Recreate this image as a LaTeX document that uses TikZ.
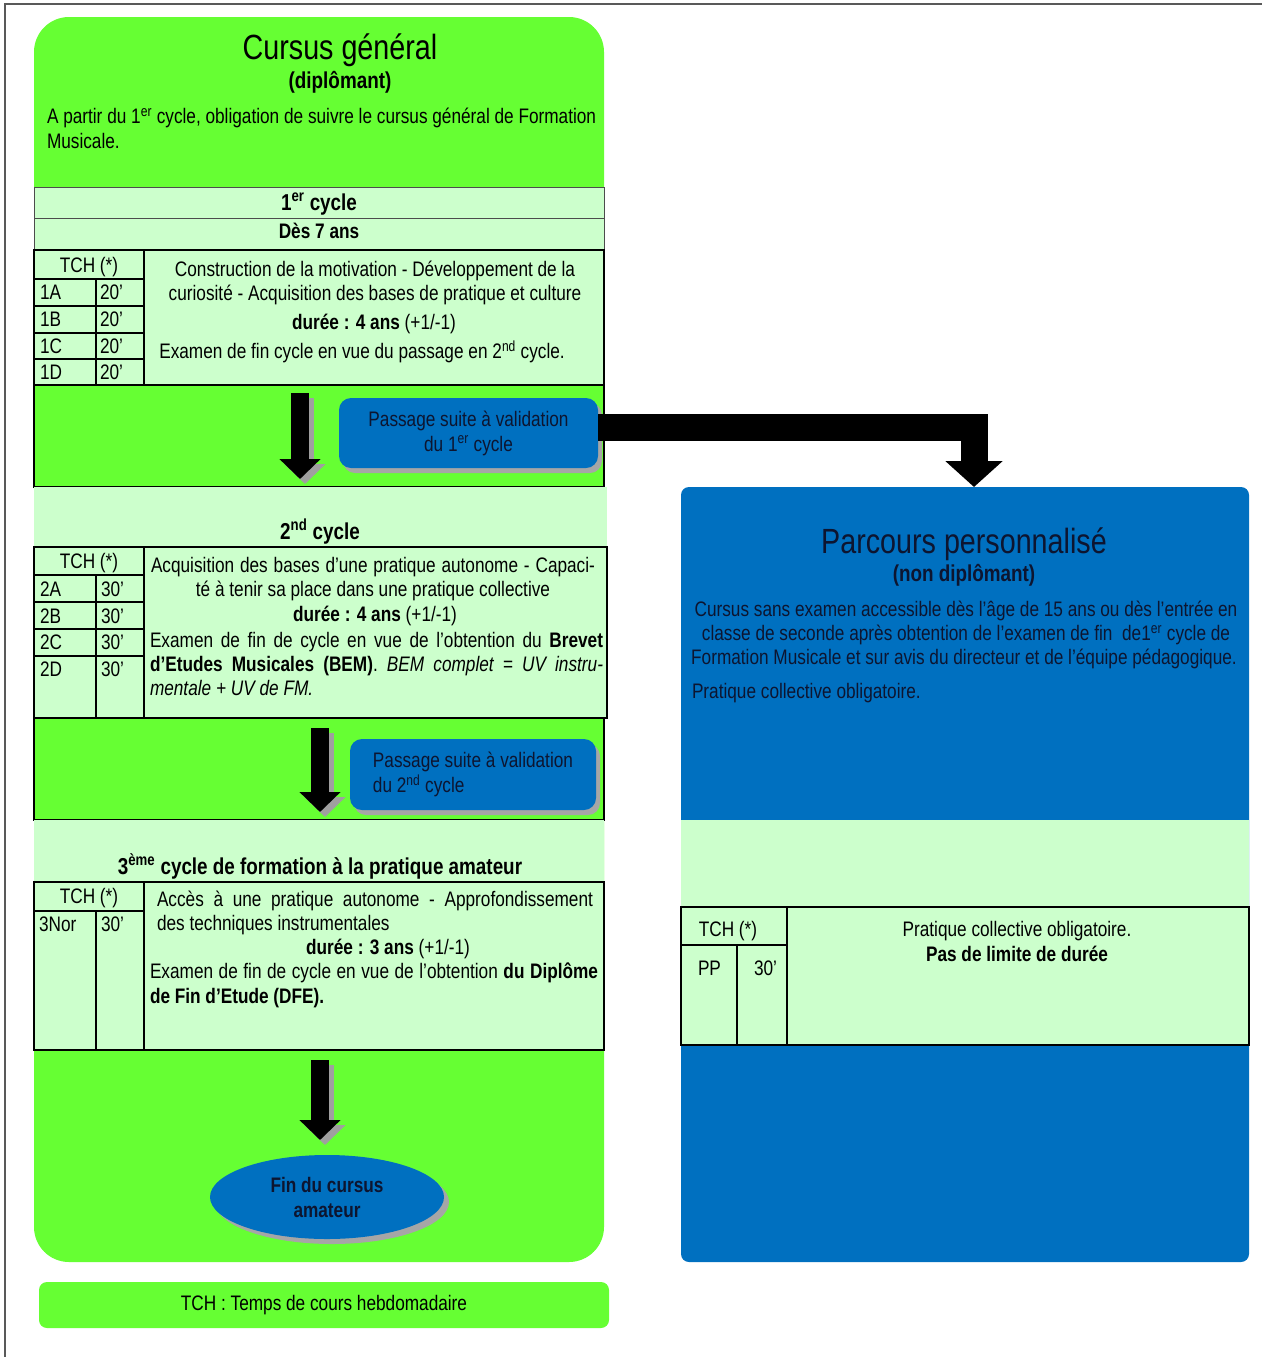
\documentclass[tikz,border=0pt]{standalone}
\usepackage{fontspec}
\setmainfont{Liberation Sans}[FakeStretch=0.82]
\usetikzlibrary{arrows.meta,shapes.geometric,shadows}
\definecolor{vif}{HTML}{66FF33}
\definecolor{pale}{HTML}{CCFFCC}
\definecolor{bleu}{HTML}{0070C0}
\definecolor{ink}{HTML}{0D1530}
\newcommand\fsBody{\fontsize{21}{25}\selectfont}
\newcommand\fsTitle{\fontsize{35}{40}\selectfont}
\newcommand\fsSub{\fontsize{23}{27}\selectfont\bfseries}
\newcommand\fsHead{\fontsize{23}{27}\selectfont\bfseries}
\newcommand\supx[1]{\textsuperscript{#1}}
\begin{document}
\begin{tikzpicture}[x=1pt,y=-1pt,
  txt/.style={inner sep=0pt, outer sep=0pt, font=\fsBody, text=black, yshift=-5pt},
  lab/.style={txt, anchor=mid},
  labw/.style={txt, anchor=mid west},
  ttl/.style={lab, font=\fsTitle, yshift=-4.5pt},
  hd/.style={lab, font=\fsHead, yshift=-1pt},
  cell/.style={draw=black, line width=1.8pt},
  thinl/.style={draw=black!70, line width=1pt},
  blk/.style={line width=18pt, -{Triangle[width=40pt,length=20pt]}, black},
  blkshad/.style={blk, color=gray!75, transform canvas={xshift=5pt,yshift=-5pt}},
  bigblk/.style={line width=27pt, -{Triangle[width=56pt,length=26pt]}, black, line join=miter},
  passbox/.style={fill=bleu, rounded corners=12pt, inner sep=0pt, text=ink, font=\fsBody,
    drop shadow={shadow xshift=4pt, shadow yshift=-5pt, fill=gray!70, opacity=1}},
  region/.style={inner sep=0pt, outer sep=0pt}
]
\useasboundingbox (0,0) rectangle (1262,1357);
\fill[white] (0,0) rectangle (1262,1357);
\draw[black!65, line width=1.5pt] (5,1357) -- (5,4) -- (1262,4);

% ---------------- left: cursus general
\node[region, fill=vif, rounded corners=35pt, minimum width=570pt, minimum height=1245pt] (gen) at (319,639.5) {};

\node[ttl] (t1) at (340,47) {Cursus général};
\node[hd, font=\fsSub] (t1b) at (340,80) {(diplômant)};
\node[labw] (intro1) at (47,116) {A partir du 1\supx{er} cycle, obligation de suivre le cursus général de Formation};
\node[labw] (intro2) at (47,141) {Musicale.};

% cycle 1
\fill[pale] (34,187) rectangle (604,385);
\draw[thinl] (34,187) -- (604,187) (34,218) -- (604,218) (34,187) -- (34,250) (604,187) -- (604,250);
\draw[cell] (34,250) rectangle (604,385);
\draw[cell] (144,250) -- (144,385) (96,279) -- (96,385)
  (34,279) -- (144,279) (34,306) -- (144,306) (34,333) -- (144,333) (34,359) -- (144,359);
\draw[cell] (34,385) rectangle (604,487);

\node[hd] (c1h) at (319,202) {1\supx{er} cycle};
\node[lab, font=\fsBody\bfseries] (c1a) at (319,231) {Dès 7 ans};
\node[lab] (tch1) at (89,265) {TCH (*)};
\foreach \n/\y in {1A/292,1B/319,1C/346,1D/372}{
  \node[labw] (r\n) at (40,\y) {\n};
  \node[labw] (d\n) at (100,\y) {20’};
}
\node[lab] (c1l1) at (375,269) {Construction de la motivation - Développement de la};
\node[lab] (c1l2) at (375,293) {curiosité - Acquisition des bases de pratique et culture};
\node[lab] (c1l3) at (374,322) {\textbf{durée : 4 ans} (+1/-1)};
\node[lab] (c1l4) at (362,351) {Examen de fin cycle en vue du passage en 2\supx{nd} cycle.};

% cycle 2
\fill[pale] (34,487) rectangle (607,718);
\draw[cell] (34,547) rectangle (607,718);
\draw[cell] (144,547) -- (144,718) (96,575) -- (96,718)
  (34,575) -- (144,575) (34,602) -- (144,602) (34,629) -- (144,629) (34,656) -- (144,656);
\draw[cell] (34,718) rectangle (604,820);

\node[hd] (c2h) at (320,531) {2\supx{nd} cycle};
\node[lab] (tch2) at (89,561) {TCH (*)};
\foreach \n/\y in {2A/589,2B/616,2C/642,2D/669}{
  \node[labw] (r\n) at (40,\y) {\n};
  \node[labw] (d\n) at (101,\y) {30’};
}
\node[labw] (c2l1) at (151,565) {\makebox[444pt][s]{Acquisition des bases d’une pratique autonome - Capaci-}};
\node[lab] (c2l2) at (373,589) {té à tenir sa place dans une pratique collective};
\node[lab] (c2l3) at (375,614) {\textbf{durée : 4 ans} (+1/-1)};
\node[labw] (c2l4) at (150,640) {\makebox[453pt][s]{Examen de fin de cycle en vue de l’obtention du \textbf{Brevet}}};
\node[labw] (c2l5) at (150,664) {\makebox[453pt][s]{\textbf{d’Etudes Musicales (BEM)}. \textit{BEM complet = UV instru-}}};
\node[labw] (c2l6) at (150,688) {\textit{mentale + UV de FM.}};

% cycle 3
\fill[pale] (34,820) rectangle (604,1050);
\draw[cell] (34,882) rectangle (604,1050);
\draw[cell] (144,882) -- (144,1050) (96,911) -- (96,1050) (34,911) -- (144,911);

\node[hd] (c3h) at (320,866) {3\supx{ème} cycle de formation à la pratique amateur};
\node[lab] (tch3) at (89,896) {TCH (*)};
\node[labw] (r3) at (39,924) {3Nor};
\node[labw] (d3) at (101,924) {30’};
\node[labw] (c3l1) at (157,899) {\makebox[436pt][s]{Accès à une pratique autonome - Approfondissement}};
\node[labw] (c3l2) at (157,923) {des techniques instrumentales};
\node[lab] (c3l3) at (388,947) {\textbf{durée : 3 ans} (+1/-1)};
\node[labw] (c3l4) at (150,971) {\makebox[448pt][s]{Examen de fin de cycle en vue de l’obtention \textbf{du Diplôme}}};
\node[labw] (c3l5) at (150,996) {\textbf{de Fin d’Etude (DFE).}};

% passage boxes
\node[passbox, minimum width=259pt, minimum height=70pt, align=center] (pass1) at (468.5,433)
  {Passage suite à validation\\du 1\supx{er} cycle};
\node[passbox, minimum width=246pt, minimum height=71pt, align=left] (pass2) at (473,774.5)
  {Passage suite à validation\\du 2\supx{nd} cycle};

% end ellipse
\node[ellipse, fill=bleu, minimum width=234pt, minimum height=84pt, inner sep=0pt, align=center,
  font=\fsBody\bfseries, text=ink,
  drop shadow={shadow xshift=5pt, shadow yshift=-5pt, fill=gray!70, opacity=1}] (fin) at (327,1197)
  {Fin du cursus\\amateur};

% down arrows
\coordinate (a1s) at (300,393); \coordinate (a1e) at (300,479);
\coordinate (a2s) at (320,728); \coordinate (a2e) at (320,812);
\coordinate (a3s) at (320,1060); \coordinate (a3e) at (320,1140);
\foreach \s/\e in {a1s/a1e,a2s/a2e,a3s/a3e}{
  \draw[blkshad] (\s) -- (\e);
  \draw[blk] (\s) -- (\e);
}

% footer
\node[region, fill=vif, rounded corners=8pt, minimum width=570pt, minimum height=46pt, font=\fsBody] (foot) at (324,1305)
  {TCH : Temps de cours hebdomadaire};

% ---------------- right: parcours personnalise
\node[region, fill=bleu, rounded corners=8pt, minimum width=568pt, minimum height=775pt] (parc) at (965,874.5) {};
\fill[pale] (681,820) rectangle (1249,1045);
\draw[cell] (681,907) rectangle (1249,1045);
\draw[cell] (787,907) -- (787,1045) (681,945) -- (787,945) (737,945) -- (737,1045);

\node[ttl, text=ink] (t2) at (964,541) {Parcours personnalisé};
\node[hd, font=\fsSub, text=ink] (t2b) at (964,573) {(non diplômant)};
\node[lab, text=ink] (p1) at (966,609) {Cursus sans examen accessible dès l’âge de 15 ans ou dès l’entrée en};
\node[lab, text=ink] (p2) at (966,633) {classe de seconde après obtention de l’examen de fin\ \ de1\supx{er} cycle de};
\node[lab, text=ink] (p3) at (964,657) {Formation Musicale et sur avis du directeur et de l’équipe pédagogique.};
\node[labw, text=ink] (p4) at (692,691) {Pratique collective obligatoire.};

\node[lab] (tch4) at (728,929) {TCH (*)};
\node[labw] (rpp) at (698,968) {PP};
\node[labw] (dpp) at (754,968) {30’};
\node[lab] (pp1) at (1017,929) {Pratique collective obligatoire.};
\node[lab] (pp2) at (1017,954) {\textbf{Pas de limite de durée}};

% elbow arrow
\draw[bigblk] ([yshift=6pt]pass1.east) -| ([xshift=9pt]parc.north);
\end{tikzpicture}
\end{document}
